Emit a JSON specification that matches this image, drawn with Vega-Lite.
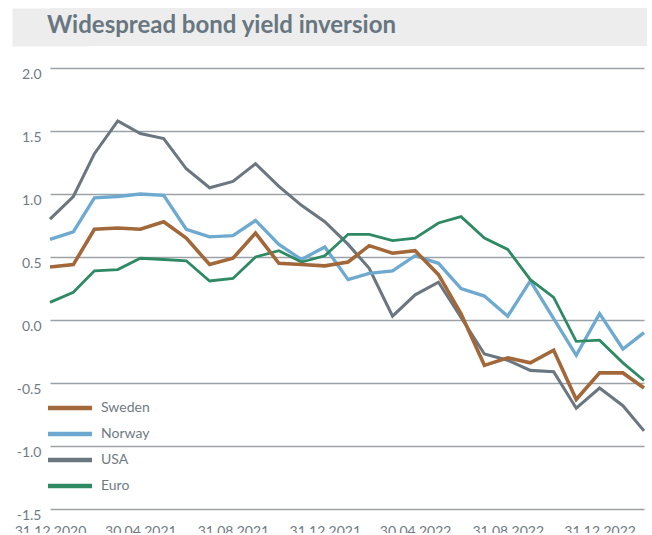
{
  "$schema": "https://vega.github.io/schema/vega-lite/v6.json",
  "padding": {"left": 12, "top": 8, "right": 5, "bottom": -5},
  "background": "white",
  "spacing": 18,
  "resolve": {"legend": {"color": "independent"}},
  "config": {
    "font": "Lato",
    "view": {"stroke": null},
    "locale": {"number": {"decimal": ".", "thousands": ",", "grouping": [3], "currency": ["$", ""], "minus": "-"}}
  },
  "vconcat": [
    {
      "width": 597,
      "height": 38,
      "view": {"fill": "#ededed", "stroke": null},
      "title": {
        "text": "Widespread bond yield inversion",
        "anchor": "start",
        "frame": "group",
        "orient": "top",
        "offset": -29.5,
        "baseline": "top",
        "dx": -3,
        "fontSize": 24,
        "fontWeight": "bold",
        "color": "#687680",
        "font": "Lato"
      },
      "data": {"values": [{"b": 0}]},
      "mark": {"type": "point", "opacity": 0},
      "encoding": {
        "y": {
          "field": "b",
          "type": "quantitative",
          "scale": {"domain": [0, 1]},
          "axis": {
            "title": null,
            "labels": false,
            "ticks": false,
            "grid": false,
            "domain": true,
            "domainColor": "#ededed",
            "domainWidth": 76,
            "domainCap": "butt",
            "minExtent": 38
          }
        }
      }
    },
    {
      "width": 594,
      "height": 441,
      "data": {
        "values": [
          {"date": "2020-12-31", "series": "USA", "value": 0.80},
          {"date": "2021-01-31", "series": "USA", "value": 0.98},
          {"date": "2021-02-28", "series": "USA", "value": 1.32},
          {"date": "2021-03-31", "series": "USA", "value": 1.58},
          {"date": "2021-04-30", "series": "USA", "value": 1.48},
          {"date": "2021-05-31", "series": "USA", "value": 1.44},
          {"date": "2021-06-30", "series": "USA", "value": 1.20},
          {"date": "2021-07-31", "series": "USA", "value": 1.05},
          {"date": "2021-08-31", "series": "USA", "value": 1.10},
          {"date": "2021-09-30", "series": "USA", "value": 1.24},
          {"date": "2021-10-31", "series": "USA", "value": 1.06},
          {"date": "2021-11-30", "series": "USA", "value": 0.91},
          {"date": "2021-12-31", "series": "USA", "value": 0.78},
          {"date": "2022-01-31", "series": "USA", "value": 0.60},
          {"date": "2022-02-28", "series": "USA", "value": 0.41},
          {"date": "2022-03-31", "series": "USA", "value": 0.03},
          {"date": "2022-04-30", "series": "USA", "value": 0.20},
          {"date": "2022-05-31", "series": "USA", "value": 0.30},
          {"date": "2022-06-30", "series": "USA", "value": 0.02},
          {"date": "2022-07-31", "series": "USA", "value": -0.27},
          {"date": "2022-08-31", "series": "USA", "value": -0.32},
          {"date": "2022-09-30", "series": "USA", "value": -0.40},
          {"date": "2022-10-31", "series": "USA", "value": -0.41},
          {"date": "2022-11-30", "series": "USA", "value": -0.70},
          {"date": "2022-12-31", "series": "USA", "value": -0.54},
          {"date": "2023-01-31", "series": "USA", "value": -0.68},
          {"date": "2023-02-28", "series": "USA", "value": -0.88},
          {"date": "2020-12-31", "series": "Norway", "value": 0.64},
          {"date": "2021-01-31", "series": "Norway", "value": 0.70},
          {"date": "2021-02-28", "series": "Norway", "value": 0.97},
          {"date": "2021-03-31", "series": "Norway", "value": 0.98},
          {"date": "2021-04-30", "series": "Norway", "value": 1.00},
          {"date": "2021-05-31", "series": "Norway", "value": 0.99},
          {"date": "2021-06-30", "series": "Norway", "value": 0.72},
          {"date": "2021-07-31", "series": "Norway", "value": 0.66},
          {"date": "2021-08-31", "series": "Norway", "value": 0.67},
          {"date": "2021-09-30", "series": "Norway", "value": 0.79},
          {"date": "2021-10-31", "series": "Norway", "value": 0.60},
          {"date": "2021-11-30", "series": "Norway", "value": 0.48},
          {"date": "2021-12-31", "series": "Norway", "value": 0.58},
          {"date": "2022-01-31", "series": "Norway", "value": 0.32},
          {"date": "2022-02-28", "series": "Norway", "value": 0.37},
          {"date": "2022-03-31", "series": "Norway", "value": 0.39},
          {"date": "2022-04-30", "series": "Norway", "value": 0.51},
          {"date": "2022-05-31", "series": "Norway", "value": 0.45},
          {"date": "2022-06-30", "series": "Norway", "value": 0.25},
          {"date": "2022-07-31", "series": "Norway", "value": 0.19},
          {"date": "2022-08-31", "series": "Norway", "value": 0.03},
          {"date": "2022-09-30", "series": "Norway", "value": 0.31},
          {"date": "2022-10-31", "series": "Norway", "value": 0.01},
          {"date": "2022-11-30", "series": "Norway", "value": -0.28},
          {"date": "2022-12-31", "series": "Norway", "value": 0.05},
          {"date": "2023-01-31", "series": "Norway", "value": -0.23},
          {"date": "2023-02-28", "series": "Norway", "value": -0.10},
          {"date": "2020-12-31", "series": "Euro", "value": 0.14},
          {"date": "2021-01-31", "series": "Euro", "value": 0.22},
          {"date": "2021-02-28", "series": "Euro", "value": 0.39},
          {"date": "2021-03-31", "series": "Euro", "value": 0.40},
          {"date": "2021-04-30", "series": "Euro", "value": 0.49},
          {"date": "2021-05-31", "series": "Euro", "value": 0.48},
          {"date": "2021-06-30", "series": "Euro", "value": 0.47},
          {"date": "2021-07-31", "series": "Euro", "value": 0.31},
          {"date": "2021-08-31", "series": "Euro", "value": 0.33},
          {"date": "2021-09-30", "series": "Euro", "value": 0.50},
          {"date": "2021-10-31", "series": "Euro", "value": 0.55},
          {"date": "2021-11-30", "series": "Euro", "value": 0.46},
          {"date": "2021-12-31", "series": "Euro", "value": 0.51},
          {"date": "2022-01-31", "series": "Euro", "value": 0.68},
          {"date": "2022-02-28", "series": "Euro", "value": 0.68},
          {"date": "2022-03-31", "series": "Euro", "value": 0.63},
          {"date": "2022-04-30", "series": "Euro", "value": 0.65},
          {"date": "2022-05-31", "series": "Euro", "value": 0.77},
          {"date": "2022-06-30", "series": "Euro", "value": 0.82},
          {"date": "2022-07-31", "series": "Euro", "value": 0.65},
          {"date": "2022-08-31", "series": "Euro", "value": 0.56},
          {"date": "2022-09-30", "series": "Euro", "value": 0.32},
          {"date": "2022-10-31", "series": "Euro", "value": 0.18},
          {"date": "2022-11-30", "series": "Euro", "value": -0.17},
          {"date": "2022-12-31", "series": "Euro", "value": -0.16},
          {"date": "2023-01-31", "series": "Euro", "value": -0.34},
          {"date": "2023-02-28", "series": "Euro", "value": -0.48},
          {"date": "2020-12-31", "series": "Sweden", "value": 0.42},
          {"date": "2021-01-31", "series": "Sweden", "value": 0.44},
          {"date": "2021-02-28", "series": "Sweden", "value": 0.72},
          {"date": "2021-03-31", "series": "Sweden", "value": 0.73},
          {"date": "2021-04-30", "series": "Sweden", "value": 0.72},
          {"date": "2021-05-31", "series": "Sweden", "value": 0.78},
          {"date": "2021-06-30", "series": "Sweden", "value": 0.65},
          {"date": "2021-07-31", "series": "Sweden", "value": 0.44},
          {"date": "2021-08-31", "series": "Sweden", "value": 0.49},
          {"date": "2021-09-30", "series": "Sweden", "value": 0.69},
          {"date": "2021-10-31", "series": "Sweden", "value": 0.45},
          {"date": "2021-11-30", "series": "Sweden", "value": 0.44},
          {"date": "2021-12-31", "series": "Sweden", "value": 0.43},
          {"date": "2022-01-31", "series": "Sweden", "value": 0.46},
          {"date": "2022-02-28", "series": "Sweden", "value": 0.59},
          {"date": "2022-03-31", "series": "Sweden", "value": 0.53},
          {"date": "2022-04-30", "series": "Sweden", "value": 0.55},
          {"date": "2022-05-31", "series": "Sweden", "value": 0.36},
          {"date": "2022-06-30", "series": "Sweden", "value": 0.05},
          {"date": "2022-07-31", "series": "Sweden", "value": -0.36},
          {"date": "2022-08-31", "series": "Sweden", "value": -0.30},
          {"date": "2022-09-30", "series": "Sweden", "value": -0.34},
          {"date": "2022-10-31", "series": "Sweden", "value": -0.24},
          {"date": "2022-11-30", "series": "Sweden", "value": -0.63},
          {"date": "2022-12-31", "series": "Sweden", "value": -0.42},
          {"date": "2023-01-31", "series": "Sweden", "value": -0.42},
          {"date": "2023-02-28", "series": "Sweden", "value": -0.54}
        ]
      },
      "mark": {"type": "line", "strokeJoin": "miter", "strokeCap": "butt"},
      "encoding": {
        "x": {
          "field": "date",
          "type": "temporal",
          "scale": {
            "type": "utc",
            "nice": false,
            "domain": [
              {"year": 2020, "month": 12, "date": 31, "utc": true},
              {"year": 2023, "month": 2, "date": 28, "utc": true}
            ]
          },
          "axis": {
            "title": null,
            "values": [
              {"year": 2020, "month": 12, "date": 31, "utc": true},
              {"year": 2021, "month": 4, "date": 30, "utc": true},
              {"year": 2021, "month": 8, "date": 31, "utc": true},
              {"year": 2021, "month": 12, "date": 31, "utc": true},
              {"year": 2022, "month": 4, "date": 30, "utc": true},
              {"year": 2022, "month": 8, "date": 31, "utc": true},
              {"year": 2022, "month": 12, "date": 31, "utc": true}
            ],
            "format": "%d.%m.%Y",
            "domain": false,
            "ticks": false,
            "grid": false,
            "labelFlush": false,
            "labelOverlap": false,
            "labelPadding": 15,
            "labelFontSize": 14,
            "labelColor": "#6f7b84",
            "labelFont": "Lato"
          }
        },
        "y": {
          "field": "value",
          "type": "quantitative",
          "scale": {"domain": [-1.5, 2], "nice": false, "zero": false},
          "axis": {
            "title": null,
            "values": [-1.5, -1, -0.5, 0, 0.5, 1, 1.5, 2],
            "format": ".1f",
            "domain": false,
            "ticks": false,
            "grid": true,
            "gridColor": "#9aa2a8",
            "gridWidth": 1.5,
            "labelColor": "#6f7b84",
            "labelFontSize": 14,
            "labelFont": "Lato",
            "labelPadding": 9,
            "labelOffset": 6,
            "minExtent": 38
          }
        },
        "color": {
          "field": "series",
          "type": "nominal",
          "scale": {
            "domain": ["Sweden", "Norway", "USA", "Euro"],
            "range": ["#a2683a", "#6eaad0", "#6b7780", "#2e8a63"]
          },
          "legend": {
            "title": null,
            "orient": "none",
            "legendX": 7.5,
            "legendY": 327.5,
            "padding": 0,
            "symbolType": "M-2.2,0H2.2",
            "symbolSize": 400,
            "symbolStrokeWidth": 4.5,
            "labelFontSize": 14,
            "labelColor": "#6f7b84",
            "labelFont": "Lato",
            "labelOffset": 18.5,
            "rowPadding": 4
          }
        },
        "strokeWidth": {
          "field": "series",
          "type": "nominal",
          "scale": {"domain": ["Sweden", "Norway", "USA", "Euro"], "range": [3.6, 2.8, 2.8, 2.8]},
          "legend": null
        }
      }
    }
  ]
}
